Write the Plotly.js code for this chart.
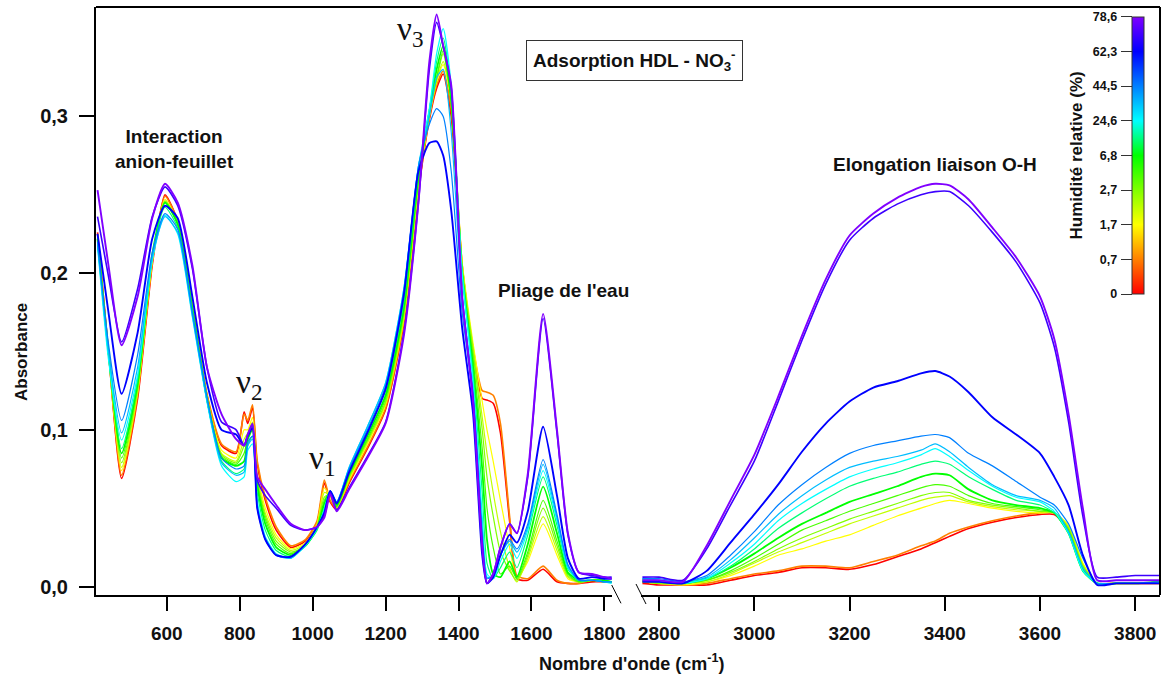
<!DOCTYPE html>
<html><head><meta charset="utf-8">
<script src="https://cdn.plot.ly/plotly-3.0.1.min.js"></script>
<style>html,body{margin:0;padding:0;background:#fff}#chart{width:1163px;height:677px}</style>
</head><body><div id="chart"></div>
<script>
// ---------------- DATA ----------------
// relative humidity (%) of each spectrum
const humidity = [0, 0.7, 1.7, 2.2, 2.7, 4.5, 6.8, 15, 24.6, 35, 44.5, 62.3, 70, 78.6];

// colour-bar tick labels (humidity %)
const rhTickValues = [0, 0.7, 1.7, 2.7, 6.8, 24.6, 44.5, 62.3, 78.6];
const rhTickLabels = ['0', '0,7', '1,7', '2,7', '6,8', '24,6', '44,5', '62,3', '78,6'];

// wavenumbers (cm-1), low-frequency window
const waveLow = [410, 440, 476, 520, 560, 595, 630, 670, 710, 750, 790, 812, 822, 835, 848, 870, 900, 940, 980, 1012,
  1032, 1048, 1066, 1100, 1150, 1200, 1250, 1290, 1320, 1340, 1358, 1380, 1410, 1440, 1465, 1478, 1495, 1515, 1540, 1560,
  1590, 1632, 1670, 1700, 1730, 1766, 1800, 1820];

// absorbance, low-frequency window, one array per humidity
const absLowRH0    = [.226,.150,.069,.120,.205,.250,.233,.178,.122,.090, .085,.1115,.104,.114,.078,.055,.036,.025,.029,.040, .066,.054,.049,.066,.088,.113,.168,.252,.298,.318, .327,.300,.205,.150,.120,.119,.117,.098,.042,.005, .004,.011,.003,.002,.002,.003,.003,.003];
const absLowRH0_7  = [.225,.150,.071,.122,.207,.249,.233,.179,.123,.091, .086,.110,.106,.116,.080,.057,.038,.026,.030,.042, .068,.055,.050,.067,.089,.114,.169,.253,.299,.320, .329,.305,.205,.152,.125,.124,.122,.104,.045,.007, .005,.013,.004,.002,.002,.004,.003,.003];
const absLowRH1_7  = [.224,.149,.074,.124,.207,.247,.232,.178,.121,.087, .082,.100,.100,.108,.072,.050,.033,.024,.028,.040, .063,.057,.050,.068,.091,.116,.171,.255,.300,.322, .333,.310,.207,.155,.118,.100,.080,.055,.025,.005, .016,.040,.020,.005,.003,.004,.004,.003];
const absLowRH2_2  = [.224,.148,.076,.125,.208,.246,.232,.178,.121,.085, .080,.094,.098,.105,.070,.047,.031,.023,.027,.039, .060,.058,.050,.069,.092,.117,.172,.256,.301,.323, .335,.310,.205,.152,.108,.085,.060,.035,.012,.003, .018,.0446,.023,.006,.003,.004,.004,.003];
const absLowRH2_7  = [.223,.148,.079,.126,.209,.246,.232,.178,.121,.084, .079,.090,.096,.103,.068,.045,.029,.022,.026,.038, .057,.059,.051,.070,.093,.118,.174,.258,.302,.324, .340,.310,.203,.150,.100,.070,.045,.022,.010,.004, .020,.050,.026,.007,.003,.004,.004,.003];
const absLowRH4_5  = [.222,.149,.082,.128,.210,.245,.231,.177,.120,.083, .078,.085,.095,.102,.066,.043,.027,.021,.026,.037, .055,.060,.051,.071,.094,.120,.176,.260,.302,.325, .342,.310,.200,.145,.088,.050,.025,.008,.013,.005, .022,.055,.029,.008,.003,.004,.004,.003];
const absLowRH6_8  = [.222,.150,.085,.130,.212,.245,.231,.177,.120,.082, .077,.080,.094,.100,.064,.040,.025,.020,.026,.037, .053,.060,.052,.072,.096,.122,.178,.262,.303,.330, .345,.310,.200,.140,.075,.030,.008,.006,.016,.006, .027,.0637,.034,.009,.004,.004,.004,.003];
const absLowRH15   = [.220,.148,.088,.132,.211,.242,.229,.176,.119,.080, .072,.075,.090,.096,.060,.036,.023,.019,.026,.036, .050,.061,.053,.074,.099,.125,.182,.265,.304,.335, .350,.315,.200,.135,.060,.015,.005,.012,.022,.012, .033,.070,.039,.011,.004,.004,.003,.003];
const absLowRH24_6 = [.217,.145,.0935,.135,.208,.237,.225,.172,.118,.077, .067,.070,.087,.091,.055,.032,.021,.018,.026,.037, .049,.061,.054,.076,.102,.130,.190,.268,.305,.340, .356,.320,.200,.130,.045,.008,.005,.016,.027,.018, .036,.074,.042,.012,.004,.004,.003,.002];
const absLowRH35   = [.218,.150,.098,.140,.210,.236,.226,.173,.119,.079, .071,.073,.090,.094,.052,.031,.020,.018,.027,.038, .048,.061,.054,.076,.102,.130,.190,.268,.300,.325, .330,.290,.185,.125,.038,.006,.006,.020,.029,.022, .038,.078,.044,.013,.004,.004,.003,.003];
const absLowRH44_5 = [.220,.155,.106,.148,.213,.238,.228,.175,.121,.082, .075,.077,.092,.096,.050,.030,.020,.019,.027,.038, .047,.061,.054,.075,.100,.128,.188,.268,.295,.305, .300,.265,.175,.120,.032,.005,.007,.020,.030,.024, .040,.081,.046,.014,.004,.004,.003,.003];
const absLowRH62_3 = [.225,.175,.123,.162,.222,.243,.235,.185,.130,.100, .097,.090,.096,.101,.050,.030,.020,.019,.027,.038, .047,.061,.053,.073,.098,.126,.186,.265,.283,.284, .275,.240,.165,.110,.020,.002,.006,.020,.033,.028, .048,.102,.058,.018,.005,.006,.005,.005];
const absLowRH70   = [.236,.198,.156,.190,.236,.255,.243,.203,.140,.105, .100,.090,.097,.103,.068,.058,.050,.039,.036,.038, .045,.060,.049,.063,.083,.105,.162,.245,.330,.360, .345,.318,.185,.120,.028,.002,.008,.025,.040,.034, .070,.171,.098,.033,.009,.007,.006,.006];
const absLowRH78_6 = [.253,.205,.154,.185,.235,.257,.245,.205,.140,.110, .094,.090,.097,.104,.070,.062,.052,.040,.036,.038, .044,.059,.048,.062,.082,.104,.160,.245,.335,.365, .345,.320,.185,.118,.025,.002,.008,.025,.040,.034, .072,.174,.100,.034,.009,.008,.006,.005];

// wavenumbers (cm-1), O-H stretching window
const waveHigh = [2765, 2800, 2850, 2900, 2950, 3000, 3050, 3100, 3150, 3200, 3250, 3300, 3350, 3380, 3410, 3450, 3500,
  3550, 3600, 3630, 3660, 3690, 3720, 3760, 3800, 3850];

const absHighRH0    = [.002,.001,.001,.001,.004,.007,.009,.012,.012,.011,.014,.019,.024,.028,.032,.037,.041,.044,.046,.046,.036,.012,.002,.002,.002,.002];
const absHighRH0_7  = [.003,.002,.001,.002,.005,.008,.010,.013,.013,.012,.016,.020,.026,.029,.034,.038,.042,.045,.047,.047,.038,.014,.002,.002,.002,.002];
const absHighRH1_7  = [.003,.002,.001,.003,.007,.013,.020,.024,.029,.033,.039,.045,.050,.053,.055,.053,.050,.048,.047,.047,.039,.015,.002,.002,.002,.002];
const absHighRH2_2  = [.003,.002,.002,.003,.008,.015,.022,.028,.034,.040,.045,.050,.055,.057,.058,.054,.051,.049,.048,.047,.038,.014,.002,.002,.002,.002];
const absHighRH2_7  = [.003,.002,.002,.004,.009,.016,.024,.031,.037,.043,.048,.053,.058,.060,.060,.055,.052,.050,.048,.047,.037,.013,.002,.002,.002,.003];
const absHighRH4_5  = [.004,.003,.002,.004,.010,.018,.027,.036,.042,.048,.053,.058,.063,.065,.064,.058,.053,.051,.049,.047,.036,.012,.002,.002,.002,.003];
const absHighRH6_8  = [.004,.003,.002,.005,.012,.021,.031,.040,.047,.054,.059,.064,.070,.072,.071,.062,.055,.052,.050,.047,.034,.010,.002,.002,.002,.003];
const absHighRH15   = [.004,.003,.002,.005,.013,.024,.037,.047,.056,.064,.069,.073,.078,.080,.078,.070,.062,.055,.052,.047,.034,.010,.002,.002,.002,.003];
const absHighRH24_6 = [.004,.003,.002,.005,.015,.027,.042,.053,.062,.070,.075,.079,.084,.088,.083,.074,.064,.057,.054,.048,.034,.010,.002,.002,.002,.002];
const absHighRH35   = [.005,.004,.003,.006,.017,.031,.046,.058,.068,.076,.080,.083,.087,.091,.086,.076,.065,.058,.055,.050,.035,.012,.002,.002,.002,.002];
const absHighRH44_5 = [.005,.005,.003,.007,.020,.035,.052,.065,.076,.085,.090,.093,.096,.097,.095,.085,.077,.067,.057,.052,.040,.018,.002,.002,.002,.003];
const absHighRH62_3 = [.003,.003,.002,.010,.028,.046,.065,.086,.104,.118,.127,.131,.136,.1375,.134,.124,.108,.097,.085,.070,.052,.020,.001,.002,.002,.002];
const absHighRH70   = [.006,.006,.004,.024,.052,.080,.118,.157,.193,.221,.235,.244,.250,.252,.252,.243,.226,.207,.181,.153,.105,.045,.006,.006,.007,.007];
const absHighRH78_6 = [.004,.004,.003,.026,.055,.084,.121,.160,.196,.224,.238,.248,.255,.257,.256,.247,.229,.210,.185,.158,.110,.050,.004,.004,.004,.004];

const lowSeries  = [absLowRH0, absLowRH0_7, absLowRH1_7, absLowRH2_2, absLowRH2_7, absLowRH4_5, absLowRH6_8,
  absLowRH15, absLowRH24_6, absLowRH35, absLowRH44_5, absLowRH62_3, absLowRH70, absLowRH78_6];
const highSeries = [absHighRH0, absHighRH0_7, absHighRH1_7, absHighRH2_2, absHighRH2_7, absHighRH4_5, absHighRH6_8,
  absHighRH15, absHighRH24_6, absHighRH35, absHighRH44_5, absHighRH62_3, absHighRH70, absHighRH78_6];

// ---------------- STYLE ----------------
const stopColors = ['#ff0000','#ff8000','#ffff00','#80ff00','#00ff00','#00ffff','#0080ff','#0000ff','#8000ff'];
const colorscale = stopColors.map((c, i) => [i / (stopColors.length - 1), c]);
function hex(c){return [parseInt(c.slice(1,3),16),parseInt(c.slice(3,5),16),parseInt(c.slice(5,7),16)];}
function rhColor(h){
  let i = 0;
  while (i < rhTickValues.length - 2 && h > rhTickValues[i+1]) i++;
  const t = Math.min(1, Math.max(0, (h - rhTickValues[i]) / (rhTickValues[i+1] - rhTickValues[i])));
  const a = hex(stopColors[i]), b = hex(stopColors[i+1]);
  return 'rgb(' + a.map((v, k) => Math.round(v + (b[k] - v) * t)).join(',') + ')';
}
const boldWidth = {0:1.6, 0.7:1.6, 6.8:1.8, 62.3:1.9, 70:1.6, 78.6:1.9};

const FONT = 'Liberation Sans, Arial, sans-serif';
const traces = [];
humidity.forEach((h, k) => {
  const line = {color: rhColor(h), width: boldWidth[h] || 1.2, shape: 'spline', smoothing: 0.6};
  traces.push({type:'scatter', mode:'lines', x: waveLow, y: lowSeries[k], xaxis:'x', yaxis:'y', line, hoverinfo:'skip', showlegend:false});
  traces.push({type:'scatter', mode:'lines', x: waveHigh, y: highSeries[k], xaxis:'x2', yaxis:'y', line, hoverinfo:'skip', showlegend:false});
});
// colour bar carrier (no visible points)
traces.push({type:'scatter', mode:'markers', x:[null], y:[null], xaxis:'x', yaxis:'y3', showlegend:false, hoverinfo:'skip',
  marker:{color:[0], cmin:0, cmax:rhTickValues.length - 1, colorscale, showscale:true,
    colorbar:{thickness:12, thicknessmode:'pixels', len:0.4716, lenmode:'fraction', x:0.9734, xanchor:'left',
      y:0.9835, yanchor:'top', ypad:0, xpad:0, outlinewidth:1, outlinecolor:'#333', showticklabels:false, ticks:''}}});

const W = 1064, H = 588, L0 = 96, T0 = 7;
const px = x => (x - L0) / W, py = y => (T0 + H - y) / H;

const tickFont = {family: FONT, size: 19, color: '#111', weight: 'bold'};
const xCommon = {anchor:'y', ticks:'outside', ticklen:14, tickwidth:2, tickcolor:'#000', showline:true, linewidth:2,
  linecolor:'#000', showgrid:false, zeroline:false, dtick:200, tick0:0, tickfont:tickFont, ticklabelstandoff:6, fixedrange:true};

const bold = (size, extra) => Object.assign({family: FONT, size, color: '#111', weight: 'bold'}, extra || {});
const nuFont = {family: 'Liberation Serif, Times New Roman, serif', size: 33, color: '#111'};

const layout = {
  width: 1163, height: 677,
  margin: {l: 96, r: 3, t: 7, b: 82},
  paper_bgcolor: '#fff', plot_bgcolor: 'rgba(0,0,0,0)',
  separators: ', ',
  showlegend: false,
  xaxis: Object.assign({}, xCommon, {domain:[0, 0.485], range:[405.8, 1821]}),
  xaxis2: Object.assign({}, xCommon, {domain:[0.5122, 1], range:[2762, 3852]}),
  yaxis: {domain:[0,1], range:[-0.0054, 0.3698], dtick:0.1, tick0:0, tickformat:'.1f', ticks:'outside', ticklen:15,
    tickwidth:2, tickcolor:'#000', showline:true, linewidth:2, linecolor:'#000', showgrid:false, zeroline:false,
    tickfont: bold(20), ticklabelstandoff:7, fixedrange:true},
  yaxis3: {domain:[0.5119, 0.9835], range:[0, rhTickValues.length - 1], anchor:'free', position:0.9734, side:'left',
    tickvals: rhTickValues.map((v, i) => i), ticktext: rhTickLabels, ticks:'outside', ticklen:11, tickwidth:1,
    tickcolor:'#333', showline:false, showgrid:false, zeroline:false, tickfont: bold(12.5), ticklabelstandoff:1,
    title:{text:'Humidité relative (%)', font: bold(17), standoff:4}, fixedrange:true},
  shapes: [
    {type:'line', xref:'paper', yref:'paper', x0:0, x1:1, y0:1, y1:1, line:{color:'#000', width:2}},
    {type:'line', xref:'paper', yref:'paper', x0:1, x1:1, y0:0, y1:1, line:{color:'#000', width:2}},
    {type:'line', xref:'paper', yref:'paper', x0:px(611.7), y0:py(585), x1:px(621), y1:py(603.3), line:{color:'#000', width:1}},
    {type:'line', xref:'paper', yref:'paper', x0:px(636), y0:py(584), x1:px(646), y1:py(604), line:{color:'#000', width:1}}
  ],
  annotations: [
    {xref:'paper', yref:'paper', x:px(174), y:py(149), text:'Interaction<br>anion-feuillet', showarrow:false, font:bold(19), xanchor:'center', yanchor:'middle'},
    {xref:'paper', yref:'paper', x:px(249), y:py(385), text:'ν<sub>2</sub>', showarrow:false, font:nuFont, xanchor:'center', yanchor:'middle'},
    {xref:'paper', yref:'paper', x:px(322), y:py(460), text:'ν<sub>1</sub>', showarrow:false, font:nuFont, xanchor:'center', yanchor:'middle'},
    {xref:'paper', yref:'paper', x:px(410), y:py(31), text:'ν<sub>3</sub>', showarrow:false, font:nuFont, xanchor:'center', yanchor:'middle'},
    {xref:'paper', yref:'paper', x:px(563), y:py(290), text:"Pliage de l'eau", showarrow:false, font:bold(19), xanchor:'center', yanchor:'middle'},
    {xref:'paper', yref:'paper', x:px(935), y:py(165), text:'Elongation liaison O-H', showarrow:false, font:bold(19), xanchor:'center', yanchor:'middle'},
    {xref:'paper', yref:'paper', x:px(634), y:py(60), text:'Adsorption HDL - NO<sub>3</sub><sup>-</sup>', showarrow:false,
      font:bold(19), xanchor:'center', yanchor:'middle', bordercolor:'#333', borderwidth:1, borderpad:6, bgcolor:'#fff'},
    {xref:'paper', yref:'paper', x:px(632), y:py(662), text:"Nombre d'onde (cm<sup>-1</sup>)", showarrow:false, font:bold(18), xanchor:'center', yanchor:'middle'},
    {xref:'paper', yref:'paper', x:px(21), y:py(352), text:'Absorbance', textangle:-90, showarrow:false, font:bold(17), xanchor:'center', yanchor:'middle'}
  ]
};

Plotly.newPlot('chart', traces, layout, {displayModeBar:false, staticPlot:true});
</script></body></html>
